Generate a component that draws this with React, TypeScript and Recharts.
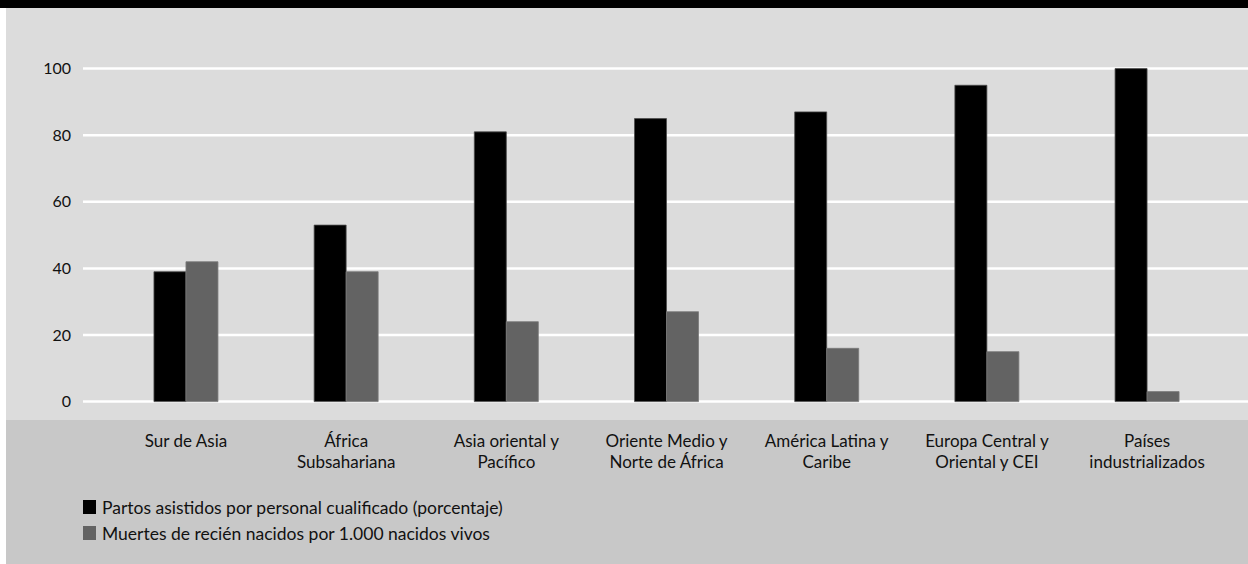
import React from "react";
import { BarChart, Bar, XAxis, YAxis, CartesianGrid, Legend } from "recharts";

const categories = [
  "Sur de Asia",
  "África\nSubsahariana",
  "Asia oriental y\nPacífico",
  "Oriente Medio y\nNorte de África",
  "América Latina y\nCaribe",
  "Europa Central y\nOriental y CEI",
  "Países\nindustrializados",
];
const partos = [39, 53, 81, 85, 87, 95, 100];
const muertes = [42, 39, 24, 27, 16, 15, 3];
const yTicks = [0, 20, 40, 60, 80, 100];
const seriesNames = [
  "Partos asistidos por personal cualificado (porcentaje)",
  "Muertes de recién nacidos por 1.000 nacidos vivos",
];
const seriesColors = ["#000000", "#636363"];

const data = categories.map((c, i) => ({ name: c, partos: partos[i], muertes: muertes[i] }));

const FONT = "Lato, 'DejaVu Sans', sans-serif";

const CategoryTick = (props: any) => {
  const { x, y, payload } = props;
  const lines = String(payload.value).split("\n");
  return (
    <text x={x} y={y} textAnchor="middle" fill="#111" fontSize={17} fontFamily={FONT}>
      {lines.map((l, i) => (
        <tspan key={i} x={x} dy={i === 0 ? 45 : 21}>
          {l}
        </tspan>
      ))}
    </text>
  );
};

const LegendContent = () => (
  <div style={{ fontFamily: FONT, fontSize: 17.5, color: "#111" }}>
    {seriesNames.map((n, i) => (
      <div key={i} style={{ display: "flex", alignItems: "center", height: 26 }}>
        <div style={{ width: 13, height: 14, background: seriesColors[i], marginRight: 6 }} />
        <span>{n}</span>
      </div>
    ))}
  </div>
);

export default function App() {
  return (
    <div style={{ position: "absolute", left: 0, top: 0, width: 1248, height: 564, background: "#fff" }}>
      <div style={{ position: "absolute", left: 0, top: 0, width: 1248, height: 8, background: "#000" }} />
      <div style={{ position: "absolute", left: 6, top: 8, width: 1242, height: 412, background: "#dcdcdc" }} />
      <div style={{ position: "absolute", left: 6, top: 420, width: 1242, height: 144, background: "#c8c8c8" }} />
      <div style={{ position: "absolute", left: 0, top: 0 }}>
        <BarChart
          width={1248}
          height={564}
          data={data}
          margin={{ top: 68.6, right: 0, left: 0, bottom: 132.4 }}
          barCategoryGap="30%"
          barGap={0}
        >
          <CartesianGrid vertical={false} stroke="#ffffff" strokeWidth={2.5} />
          <XAxis
            dataKey="name"
            height={30}
            axisLine={false}
            tickLine={false}
            tickSize={0}
            tickMargin={0}
            interval={0}
            padding={{ left: 22.9, right: 20.8 }}
            tick={<CategoryTick />}
          />
          <YAxis
            domain={[0, 100]}
            ticks={yTicks}
            width={83}
            axisLine={false}
            tickLine={false}
            tickSize={0}
            tickMargin={12}
            tick={{ fill: "#111", fontSize: 16, fontFamily: FONT }}
          />
          <Legend
            layout="vertical"
            align="center"
            verticalAlign="middle"
            content={<LegendContent />}
            wrapperStyle={{ left: 83, top: 494, width: 700, height: 52 }}
          />
          <Bar dataKey="partos" name={seriesNames[0]} fill={seriesColors[0]} stroke="#4d4d4d" strokeWidth={0.8} isAnimationActive={false} />
          <Bar dataKey="muertes" name={seriesNames[1]} fill={seriesColors[1]} stroke="#7a7a7a" strokeWidth={0.8} isAnimationActive={false} />
        </BarChart>
      </div>
    </div>
  );
}
